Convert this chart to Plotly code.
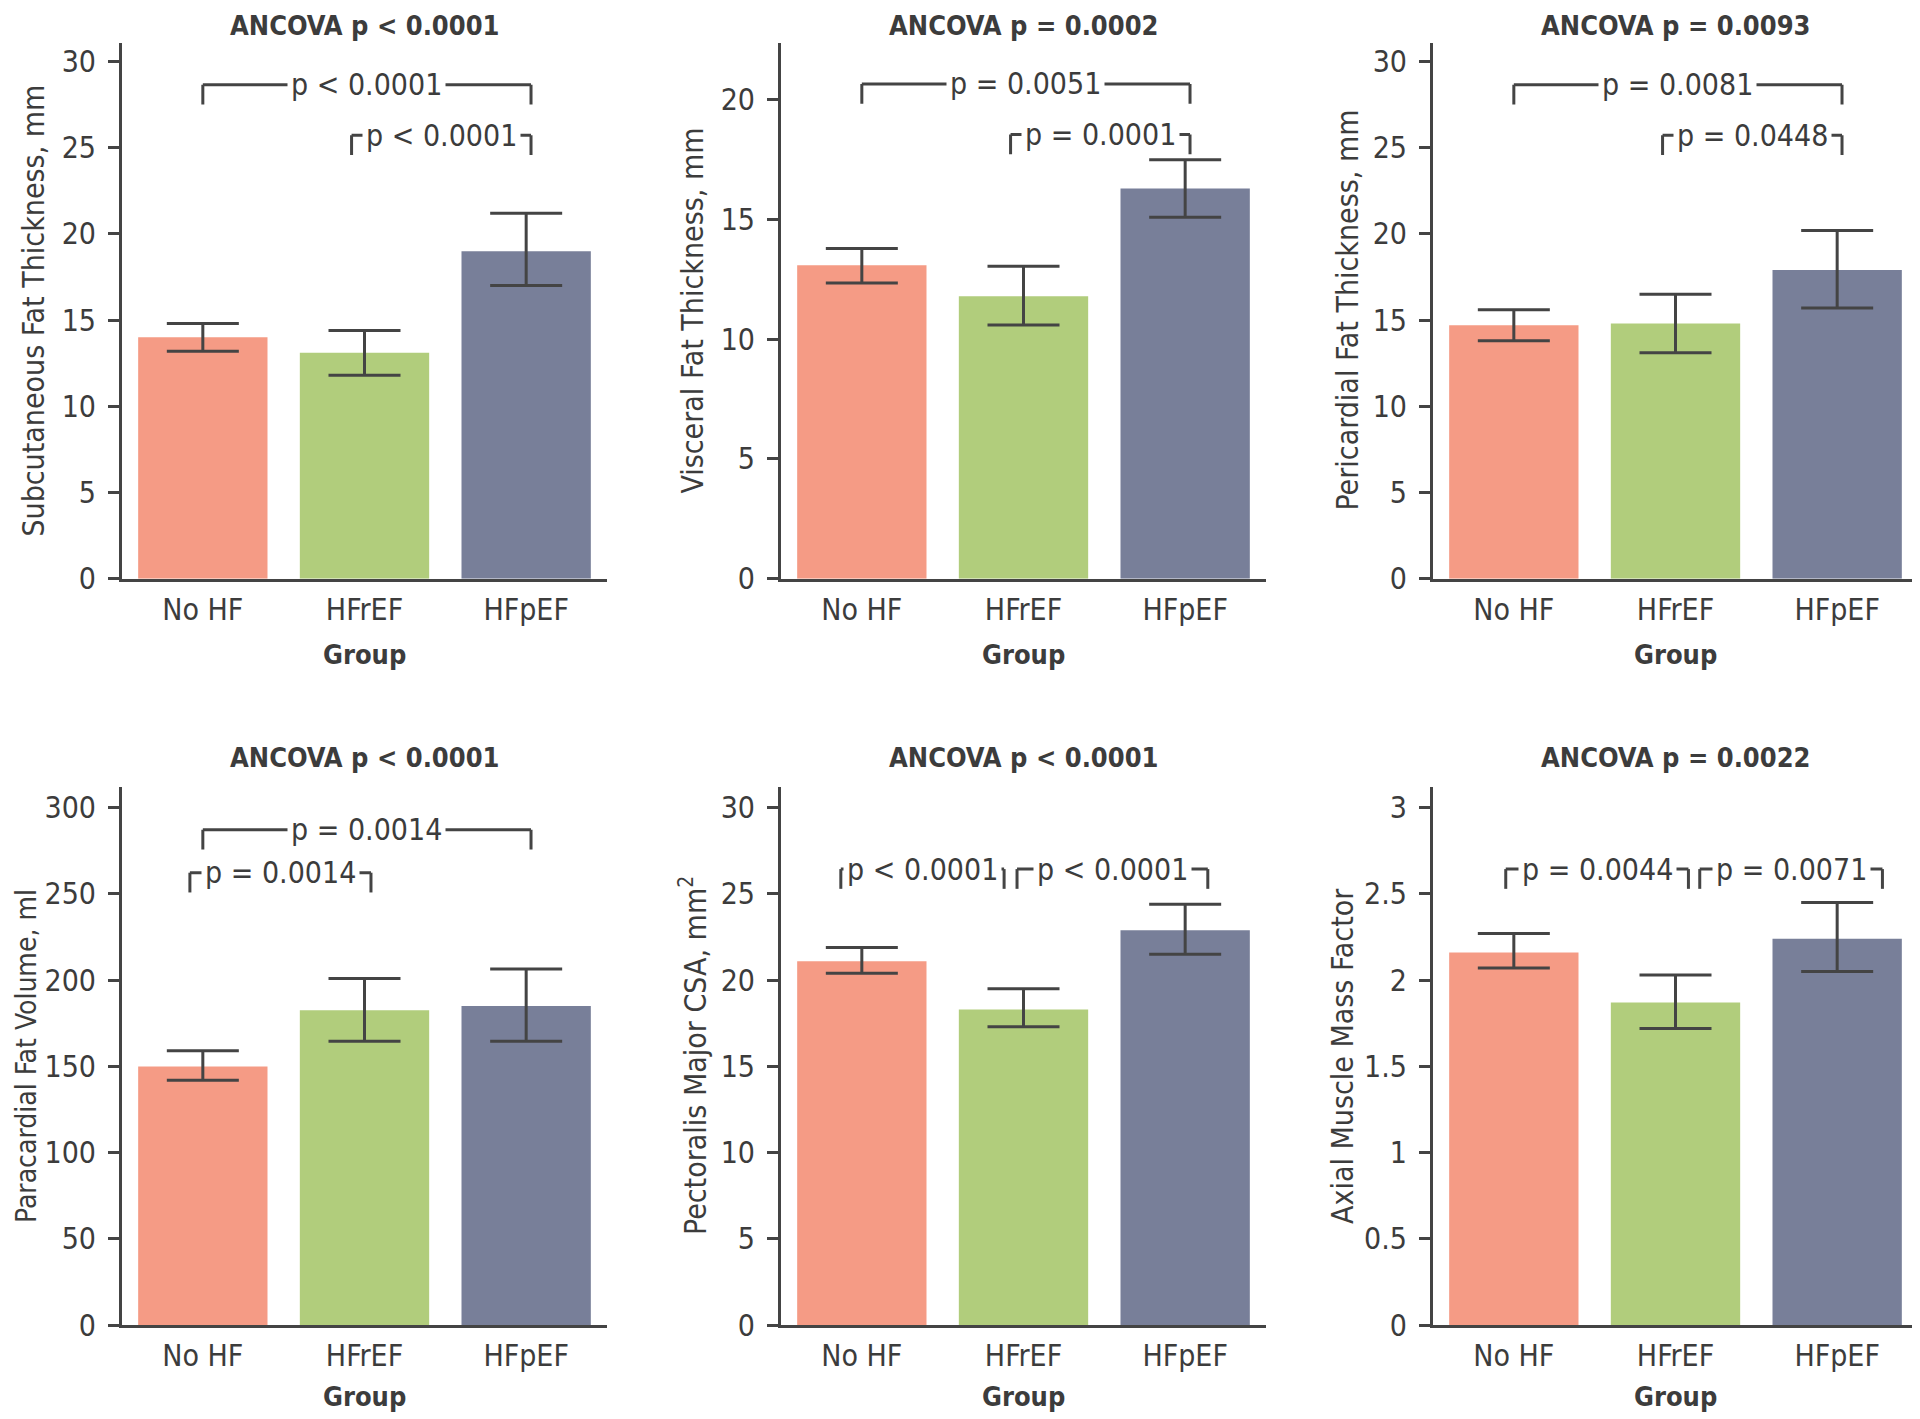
import plotly.graph_objects as go

W, H = 1920, 1419

groups = ["No HF", "HFrEF", "HFpEF"]
bar_colors = ["#F59B85", "#B1CD7C", "#787F99"]

# ---- data (mean, upper, lower of error bar) ----
subq_mean = [14.0, 13.1, 19.0]
subq_hi = [14.8, 14.4, 21.2]
subq_lo = [13.2, 11.8, 17.0]

visc_mean = [13.1, 11.8, 16.3]
visc_hi = [13.8, 13.05, 17.5]
visc_lo = [12.35, 10.6, 15.1]

peri_mean = [14.7, 14.8, 17.9]
peri_hi = [15.6, 16.5, 20.2]
peri_lo = [13.8, 13.1, 15.7]

para_mean = [150, 182.5, 185]
para_hi = [159, 201, 206.5]
para_lo = [142, 164.5, 164.5]

pect_mean = [21.1, 18.3, 22.9]
pect_hi = [21.9, 19.5, 24.4]
pect_lo = [20.4, 17.3, 21.5]

axial_mean = [2.16, 1.87, 2.24]
axial_hi = [2.27, 2.03, 2.45]
axial_lo = [2.07, 1.72, 2.05]

ancova_titles = ["ANCOVA p < 0.0001", "ANCOVA p = 0.0002", "ANCOVA p = 0.0093",
                 "ANCOVA p < 0.0001", "ANCOVA p < 0.0001", "ANCOVA p = 0.0022"]
y_titles = ["Subcutaneous Fat Thickness, mm", "Visceral Fat Thickness, mm",
            "Pericardial Fat Thickness, mm", "Paracardial Fat Volume, ml",
            "Pectoralis Major CSA, mm<sup>2</sup>", "Axial Muscle Mass Factor"]

# bracket comparisons: (x0, x1, level, text)
brackets = [
    [(0.0, 2.03, 28.65, "p < 0.0001"), (0.92, 2.03, 25.73, "p < 0.0001")],
    [(0.0, 2.03, 20.67, "p = 0.0051"), (0.92, 2.03, 18.56, "p = 0.0001")],
    [(0.0, 2.03, 28.65, "p = 0.0081"), (0.92, 2.03, 25.73, "p = 0.0448")],
    [(0.0, 2.03, 287.2, "p = 0.0014"), (-0.08, 1.04, 262.3, "p = 0.0014")],
    [(-0.13, 0.88, 26.44, "p < 0.0001"), (0.96, 2.14, 26.44, "p < 0.0001")],
    [(-0.05, 1.08, 2.644, "p = 0.0044"), (1.15, 2.28, 2.644, "p = 0.0071")],
]

panels = [
    (subq_mean, subq_hi, subq_lo, 31.1, [0, 5, 10, 15, 20, 25, 30], None),
    (visc_mean, visc_hi, visc_lo, 22.4, [0, 5, 10, 15, 20], None),
    (peri_mean, peri_hi, peri_lo, 31.1, [0, 5, 10, 15, 20, 25, 30], None),
    (para_mean, para_hi, para_lo, 312, [0, 50, 100, 150, 200, 250, 300], None),
    (pect_mean, pect_hi, pect_lo, 31.2, [0, 5, 10, 15, 20, 25, 30], None),
    (axial_mean, axial_hi, axial_lo, 3.12, [0, 0.5, 1, 1.5, 2, 2.5, 3],
     ["0", "0.5", "1", "1.5", "2", "2.5", "3"]),
]

# layout geometry (pixels)
col_x = [(114, 599), (773, 1258), (1425, 1910)]
row_y = [(35, 578), (789, 1334)]
ytitle_x = [26, 685, 1340, 18, 685, 1334]
ytitle_fs = [30, 30, 30, 28, 30, 30]
title_y = [0, 759]
group_y = [655, 1406]

FONT = "DejaVu Sans Condensed, Liberation Sans Narrow, sans-serif"
TXT = "#3c3c3c"
LINE = "#444444"
FS = 30
FS_B = 27

fig = go.Figure()
layout = dict(
    width=W, height=H, margin=dict(l=0, r=0, t=0, b=0),
    paper_bgcolor="white", plot_bgcolor="white", showlegend=False,
    font=dict(family=FONT, size=FS, color=TXT),
)
shapes = []
annotations = []

for k, (mean, hi, lo, ymax, tv, tt) in enumerate(panels):
    r, c = divmod(k, 3)
    sfx = "" if k == 0 else str(k + 1)
    xa, ya = "x" + sfx, "y" + sfx
    x0p, x1p = col_x[c]
    y0p, y1p = row_y[r]
    err_plus = [h - m for h, m in zip(hi, mean)]
    err_minus = [m - l for m, l in zip(mean, lo)]
    fig.add_trace(go.Bar(
        x=[0, 1, 2], y=mean, width=0.8, marker=dict(color=bar_colors, line=dict(width=0)),
        error_y=dict(type="data", symmetric=False, array=err_plus, arrayminus=err_minus,
                     color=LINE, thickness=3, width=36),
        xaxis=xa, yaxis=ya, hoverinfo="skip",
    ))
    layout["xaxis" + sfx] = dict(
        domain=[x0p / W, x1p / W], anchor=ya, range=[-0.5, 2.5],
        tickmode="array", tickvals=[0, 1, 2], ticktext=groups, ticks="",
        showline=True, linecolor=LINE, linewidth=3, showgrid=False, zeroline=False,
        ticklabelstandoff=2, tickfont=dict(size=FS, color=TXT),
    )
    ydict = dict(
        domain=[1 - y1p / H, 1 - y0p / H], anchor=xa, range=[0, ymax],
        tickmode="array", tickvals=tv, ticks="outside", ticklen=11, tickwidth=3,
        tickcolor=LINE, showline=True, linecolor=LINE, linewidth=3,
        showgrid=False, zeroline=False, ticklabelstandoff=6,
        tickfont=dict(size=FS, color=TXT),
    )
    if tt is not None:
        ydict["ticktext"] = tt
    layout["yaxis" + sfx] = ydict

    # panel title
    if r == 0:
        ty, tanchor = 1.0, "top"
    else:
        ty, tanchor = 1 - title_y[r] / H, "middle"
    annotations.append(dict(
        text="<b>" + ancova_titles[k] + "</b>", xref="paper", yref="paper",
        x=(x0p + x1p) / 2 / W, y=ty, xanchor="center", yanchor=tanchor,
        showarrow=False, font=dict(size=FS_B, color=TXT, family=FONT)))
    # x axis title
    annotations.append(dict(
        text="<b>Group</b>", xref="paper", yref="paper",
        x=(x0p + x1p) / 2 / W, y=1 - group_y[r] / H, xanchor="center", yanchor="middle",
        showarrow=False, font=dict(size=FS_B, color=TXT, family=FONT)))
    # y axis title
    annotations.append(dict(
        text=y_titles[k], xref="paper", yref="paper", textangle=-90,
        x=ytitle_x[k] / W, y=1 - (y0p + y1p) / 2 / H, xanchor="center", yanchor="middle",
        showarrow=False, font=dict(size=ytitle_fs[k], color=TXT, family=FONT)))

    # brackets
    depth = 20 * ymax / (y1p - y0p)
    for (bx0, bx1, lvl, txt) in brackets[k]:
        for sh in [
            dict(x0=bx0, x1=bx1, y0=lvl, y1=lvl),
            dict(x0=bx0, x1=bx0, y0=lvl, y1=lvl - depth),
            dict(x0=bx1, x1=bx1, y0=lvl, y1=lvl - depth),
        ]:
            sh.update(type="line", xref=xa, yref=ya, line=dict(color=LINE, width=3))
            shapes.append(sh)
        annotations.append(dict(
            text=txt, xref=xa, yref=ya, x=(bx0 + bx1) / 2, y=lvl,
            xanchor="center", yanchor="middle", showarrow=False,
            bgcolor="white", borderpad=3,
            font=dict(size=FS, color=TXT, family=FONT)))

layout["shapes"] = shapes
layout["annotations"] = annotations
fig.update_layout(**layout)
fig.write_html("out.html")
